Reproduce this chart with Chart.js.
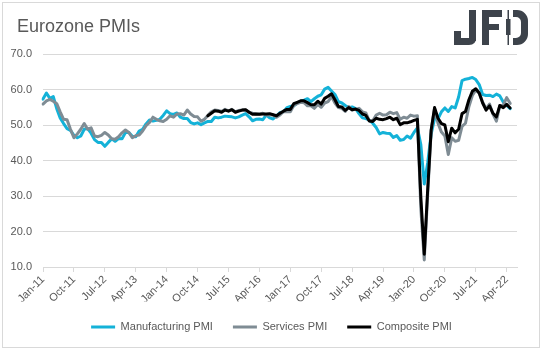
<!DOCTYPE html>
<html>
<head>
<meta charset="utf-8">
<script src="https://cdn.jsdelivr.net/npm/chart.js@4/dist/chart.umd.min.js"></script>
<style>
  html, body { margin: 0; padding: 0; background: #fff; }
  #wrap { width: 543px; height: 351px; }
</style>
</head>
<body>
<div id="wrap"><canvas id="pmi" width="543" height="351"></canvas></div>
<script>
// Month names / years used to build the monthly category labels (Jan-11 .. Jul-22)
const monthNames = ['Jan', 'Feb', 'Mar', 'Apr', 'May', 'Jun', 'Jul', 'Aug', 'Sep', 'Oct', 'Nov', 'Dec'];
const years = [11, 12, 13, 14, 15, 16, 17, 18, 19, 20, 21, 22];

// Eurozone manufacturing PMI, Jan-11 .. May-22
const manufacturing = [
  57.3, 59.0, 57.5, 58.0, 54.6, 52.0, 50.4, 49.0, 48.5, 47.1, 46.4, 46.9,
  48.8, 49.0, 47.7, 45.9, 45.1, 45.1, 44.0, 45.1, 46.1, 45.4, 46.2, 46.1,
  47.9, 47.9, 46.8, 46.7, 48.3, 48.8, 50.3, 51.4, 51.1, 51.3, 51.6, 52.7,
  54.0, 53.2, 53.0, 53.4, 52.2, 51.8, 51.8, 50.7, 50.3, 50.6, 50.1, 50.6,
  51.0, 51.0, 52.2, 52.0, 52.2, 52.5, 52.4, 52.3, 52.0, 52.3, 52.8, 53.2,
  52.3, 51.2, 51.6, 51.7, 51.5, 52.8, 52.0, 51.7, 52.6, 53.5, 53.7, 54.9,
  55.2, 55.4, 56.2, 56.7, 57.0, 57.4, 56.6, 57.4, 58.1, 58.5, 60.1, 60.6,
  59.6, 58.6, 56.6, 56.2, 55.5, 54.9, 55.1, 54.6, 53.2, 52.0, 51.8, 51.4,
  50.5, 49.3, 47.5, 47.9, 47.7, 47.6, 46.5, 47.0, 45.7, 45.9, 46.9, 46.3,
  47.9, 49.2, 44.5, 33.4, 39.4, 47.4, 51.8, 51.7, 53.7, 54.8, 53.8, 55.2,
  54.8, 57.9, 62.5, 62.9, 63.1, 63.4, 62.8, 61.4, 58.6, 58.3, 58.4, 58.0,
  58.7, 58.2, 56.5, 55.5, 54.6
];

// Eurozone services PMI, Jan-11 .. May-22
const services = [
  55.9, 56.8, 57.2, 56.7, 56.0, 53.7, 51.6, 51.5, 48.8, 46.4, 47.5, 48.8,
  50.4, 48.8, 49.2, 46.9, 46.7, 47.1, 47.9, 47.2, 46.1, 46.0, 46.7, 47.8,
  48.6, 47.9, 46.4, 47.0, 47.2, 48.3, 49.8, 50.7, 52.2, 51.6, 51.2, 51.0,
  51.6, 52.6, 52.2, 53.1, 53.2, 52.8, 54.2, 53.1, 52.4, 52.3, 51.1, 51.6,
  52.7, 53.7, 54.2, 54.1, 53.8, 54.4, 54.0, 54.4, 53.7, 54.1, 54.2, 54.2,
  53.6, 53.3, 53.1, 53.1, 53.3, 52.8, 52.9, 52.8, 52.2, 52.8, 53.8, 53.7,
  53.7, 55.5, 56.0, 56.4, 56.3, 55.4, 55.4, 54.7, 55.8, 55.0, 56.2, 56.6,
  58.0, 56.2, 54.9, 54.7, 53.8, 55.2, 54.2, 54.4, 54.7, 53.7, 53.4, 51.2,
  51.2, 52.8, 53.3, 52.8, 52.9, 53.6, 53.2, 53.5, 51.6, 52.2, 51.9, 52.8,
  52.5, 52.6, 26.4, 12.0, 30.5, 48.3, 54.7, 50.5, 48.0, 46.9, 41.7, 46.4,
  45.4, 45.7, 49.6, 50.5, 55.2, 58.3, 59.8, 59.0, 56.4, 54.6, 55.9, 53.1,
  51.1, 55.5, 55.6, 57.7, 56.1
];

// Eurozone composite PMI, shown from Jan-15 .. May-22
const compositeStart = 'Jan-15';
const composite = [
  52.6, 53.3, 54.0, 53.9, 53.6, 54.2, 53.9, 54.3, 53.6, 53.9, 54.2, 54.3,
  53.6, 53.0, 53.1, 53.0, 53.1, 53.1, 53.2, 52.9, 52.6, 53.3, 53.9, 54.4,
  54.4, 56.0, 56.4, 56.8, 56.8, 56.3, 55.7, 55.7, 56.7, 55.9, 57.5, 58.1,
  58.8, 57.1, 55.2, 55.1, 54.1, 54.9, 54.3, 54.5, 54.1, 53.1, 52.7, 51.1,
  51.0, 51.9, 51.6, 51.5, 51.8, 52.2, 51.5, 51.9, 50.1, 50.6, 50.6, 50.9,
  51.3, 51.6, 29.7, 13.6, 31.9, 48.5, 54.9, 51.9, 50.4, 50.0, 45.3, 49.1,
  47.8, 48.8, 53.2, 53.8, 57.1, 59.5, 60.2, 59.0, 56.2, 54.2, 55.4, 53.3,
  52.3, 55.5, 54.9, 55.8, 54.8
];

// Labels shown on the x axis (every 9th month)
const shownTicks = ['Jan-11', 'Oct-11', 'Jul-12', 'Apr-13', 'Jan-14', 'Oct-14', 'Jul-15', 'Apr-16',
  'Jan-17', 'Oct-17', 'Jul-18', 'Apr-19', 'Jan-20', 'Oct-20', 'Jul-21', 'Apr-22'];

const labels = [];
years.forEach(y => monthNames.forEach(m => labels.push(m + '-' + y)));
labels.splice(labels.indexOf('Jul-22') + 1);

const compositeSeries = labels.map(() => null);
const startIdx = labels.indexOf(compositeStart);
composite.forEach((v, i) => { compositeSeries[startIdx + i] = v; });

const textGrey = '#595959';
const gridGrey = '#d9d9d9';
const logoColor = '#3d434b';

// frame, title and logo
const decorPlugin = {
  id: 'decor',
  beforeInit(chart) {
    const fit = chart.legend.fit;
    chart.legend.fit = function () {
      fit.call(this);
      this.height = 49.5;
    };
  },
  beforeDraw(chart) {
    const ctx = chart.ctx;
    ctx.save();
    ctx.fillStyle = '#ffffff';
    ctx.fillRect(0, 0, chart.width, chart.height);
    ctx.strokeStyle = gridGrey;
    ctx.lineWidth = 1;
    ctx.strokeRect(2.5, 2.5, 537, 345);
    ctx.fillStyle = textGrey;
    ctx.font = '18px "Liberation Sans"';
    ctx.textBaseline = 'alphabetic';
    ctx.fillText('Eurozone PMIs', 17, 32);
    ctx.restore();
  },
  afterDraw(chart) {
    const ctx = chart.ctx;
    ctx.save();
    ctx.fillStyle = logoColor;
    // J
    ctx.fillRect(469, 10, 7, 31);
    ctx.beginPath();
    ctx.moveTo(476, 38);
    ctx.quadraticCurveTo(476, 45, 469, 45);
    ctx.lineTo(454, 45);
    ctx.lineTo(454, 38);
    ctx.lineTo(476, 38);
    ctx.fill();
    ctx.fillRect(454, 31, 7, 10);
    // F
    ctx.fillRect(482, 10, 7, 35);
    ctx.fillRect(482, 10, 20, 7);
    ctx.fillRect(482, 24, 17, 6);
    // D: candlestick stem + bowl
    ctx.fillRect(507.5, 10, 1.5, 35);
    ctx.fillRect(506, 19, 4.5, 16);
    ctx.beginPath();
    ctx.moveTo(513, 10);
    ctx.lineTo(517, 10);
    ctx.arcTo(528, 10, 528, 21, 11);
    ctx.lineTo(528, 34);
    ctx.arcTo(528, 45, 517, 45, 11);
    ctx.lineTo(513, 45);
    ctx.closePath();
    ctx.moveTo(513, 17);
    ctx.lineTo(516, 17);
    ctx.arcTo(521, 17, 521, 22, 5);
    ctx.lineTo(521, 33);
    ctx.arcTo(521, 38, 516, 38, 5);
    ctx.lineTo(513, 38);
    ctx.closePath();
    ctx.fill('evenodd');
    ctx.restore();
  }
};

new Chart(document.getElementById('pmi'), {
  type: 'line',
  data: {
    labels: labels,
    datasets: [
      { label: 'Manufacturing PMI', data: manufacturing, borderColor: '#14b2d8', backgroundColor: '#14b2d8', order: 3 },
      { label: 'Services PMI', data: services, borderColor: '#7f8c94', backgroundColor: '#7f8c94', order: 2 },
      { label: 'Composite PMI', data: compositeSeries, borderColor: '#000000', backgroundColor: '#000000', order: 1 }
    ]
  },
  options: {
    responsive: false,
    devicePixelRatio: 1,
    animation: false,
    datasets: {
      line: { borderWidth: 3, pointRadius: 0, tension: 0, borderJoinStyle: 'round', borderCapStyle: 'round', spanGaps: false }
    },
    layout: { padding: { left: 0, right: 0, top: 54, bottom: 0 } },
    font: { family: '"Liberation Sans"', size: 11 },
    scales: {
      x: {
        grid: { drawOnChartArea: false, drawTicks: true, tickLength: 5, color: gridGrey },
        border: { display: true, color: gridGrey },
        afterFit(scale) { scale.height = 34.5; },
        ticks: {
          autoSkip: false,
          minRotation: 45,
          maxRotation: 45,
          padding: 1,
          color: textGrey,
          font: { family: '"Liberation Sans"', size: 11 },
          callback(value) {
            const lab = this.getLabelForValue(value);
            return shownTicks.includes(lab) ? lab : null;
          }
        }
      },
      y: {
        min: 10,
        max: 70,
        grid: { color: gridGrey, drawTicks: false },
        border: { display: false },
        afterFit(scale) { scale.width = 43; },
        ticks: {
          stepSize: 10,
          padding: 11,
          color: textGrey,
          font: { family: '"Liberation Sans"', size: 11 },
          callback: v => v.toFixed(1)
        }
      },
      // empty right-hand margin so the legend stays centred on the whole chart
      yRight: {
        position: 'right',
        min: 10,
        max: 70,
        grid: { display: false },
        border: { display: false },
        ticks: { display: false },
        afterFit(scale) { scale.width = 26; }
      }
    },
    plugins: {
      tooltip: { enabled: false },
      title: { display: false },
      legend: {
        position: 'bottom',
        labels: {
          boxWidth: 24,
          boxHeight: 3,
          padding: 20,
          color: textGrey,
          font: { family: '"Liberation Sans"', size: 11 },
          sort: (a, b) => a.datasetIndex - b.datasetIndex,
          generateLabels(chart) {
            const items = Chart.defaults.plugins.legend.labels.generateLabels(chart);
            items.forEach(it => { it.lineWidth = 0; it.fillStyle = it.strokeStyle; });
            return items;
          }
        }
      }
    }
  },
  plugins: [decorPlugin]
});
</script>
</body>
</html>
